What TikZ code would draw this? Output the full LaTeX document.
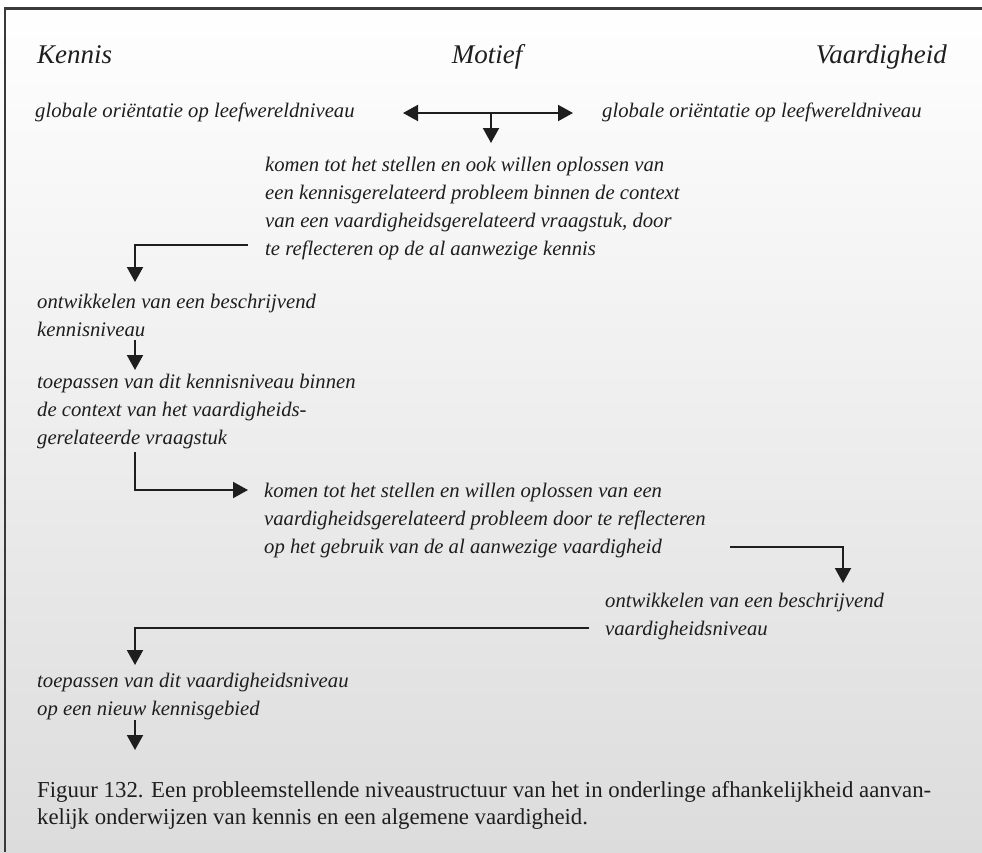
\documentclass[tikz,border=0pt]{standalone}
\usepackage{fontspec}
\setmainfont{Liberation Serif}
\usetikzlibrary{arrows.meta}
\definecolor{ink}{HTML}{1E1E1E}
\definecolor{frame}{HTML}{3A3A3A}
\definecolor{paperlow}{HTML}{DCDCDC}
% fixed first-line heights so that node tops sit a known distance above the first baseline
\newcommand\bodytop{\rule{0pt}{15pt}}
\newcommand\captop{\rule{0pt}{16.5pt}}
\tikzset{
  body/.style={font=\fontsize{20.7}{28}\selectfont\itshape, text=ink,
    anchor=north west, inner sep=0pt, align=left},
  head/.style={font=\fontsize{27}{31}\selectfont\itshape, text=ink, inner sep=0pt},
  caption/.style={font=\fontsize{22.8}{27.5}\selectfont, text=ink,
    anchor=north west, inner sep=0pt, align=left},
  link/.style={line width=2pt, draw=ink},
  flow/.style={link, -{Triangle[length=15pt,width=16pt]}},
  both/.style={link, {Triangle[length=15pt,width=16pt]}-{Triangle[length=15pt,width=16pt]}},
}
\begin{document}
\begin{tikzpicture}[x=1pt,y=-1pt]
  \useasboundingbox (0,0) rectangle (982,852);
  % paper with a soft vertical fade and the frame on top and left
  \shade[top color=white, bottom color=paperlow] (0,0) rectangle (982,852);
  \draw[frame, line width=2.5pt] (5,852) -- (5,8.5) -- (982,8.5);

  % column headings
  \node[head, anchor=base west] (kennis) at (37,63) {Kennis};
  \node[head, anchor=base] (motief) at (487,63) {Motief};
  \node[head, anchor=base east] (vaard) at (947,63) {Vaardigheid};

  % steps
  \node[body] (glk) at (35,102) {\bodytop globale oriëntatie op leefwereldniveau};
  \node[body] (glv) at (602,102) {\bodytop globale oriëntatie op leefwereldniveau};
  \node[body] (kp1) at (265,156) {\bodytop komen tot het stellen en ook willen oplossen van\\
    een kennisgerelateerd probleem binnen de context\\
    van een vaardigheidsgerelateerd vraagstuk, door\\
    te reflecteren op de al aanwezige kennis};
  \node[body] (ok) at (37,293) {\bodytop ontwikkelen van een beschrijvend\\kennisniveau};
  \node[body] (tk) at (37,373) {\bodytop toepassen van dit kennisniveau binnen\\
    de context van het vaardigheids-\\gerelateerde vraagstuk};
  \node[body] (vp) at (264,482) {\bodytop komen tot het stellen en willen oplossen van een\\
    vaardigheidsgerelateerd probleem door te reflecteren\\
    op het gebruik van de al aanwezige vaardigheid};
  \node[body] (ov) at (605,592) {\bodytop ontwikkelen van een beschrijvend\\vaardigheidsniveau};
  \node[body] (tv) at (37,672) {\bodytop toepassen van dit vaardigheidsniveau\\op een nieuw kennisgebied};

  \node[caption] (cap) at (37,780.5) {\captop Figuur 132. Een probleemstellende niveaustructuur van het in onderlinge afhankelijkheid aanvan-\\
    kelijk onderwijzen van kennis en een algemene vaardigheid.};

  % connector end points
  \coordinate (mL) at (403,113);
  \coordinate (mR) at (573,113);
  \coordinate (mM) at (491,113);
  \coordinate (mD) at (491,143);
  \coordinate (s2) at (248,245);
  \coordinate (e2) at (135,282);
  \coordinate (s3) at (135,340);
  \coordinate (e3) at (135,370);
  \coordinate (s4) at (135,452);
  \coordinate (e4) at (248,490);
  \coordinate (s5) at (730,547);
  \coordinate (e5) at (843,583);
  \coordinate (s6) at (589,628);
  \coordinate (e6) at (135,665);
  \coordinate (s7) at (135,720);
  \coordinate (e7) at (135,750);

  % connectors
  \draw[both] (mL) -- (mR);
  \draw[flow] (mM) -- (mD);
  \draw[flow] (s2) -| (e2);
  \draw[flow] (s3) -- (e3);
  \draw[flow] (s4) |- (e4);
  \draw[flow] (s5) -| (e5);
  \draw[flow] (s6) -| (e6);
  \draw[flow] (s7) -- (e7);
\end{tikzpicture}
\end{document}
